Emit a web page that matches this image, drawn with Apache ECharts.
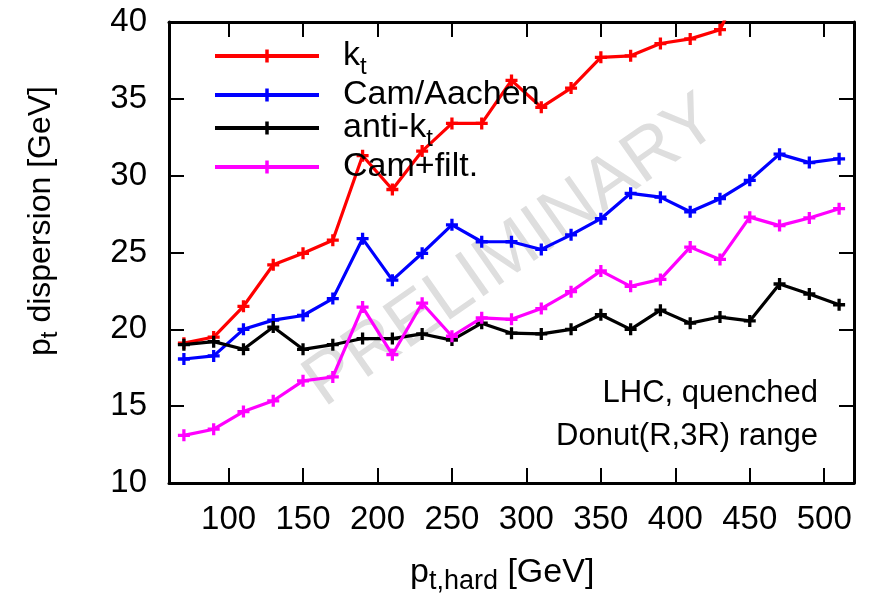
<!DOCTYPE html>
<html>
<head>
<meta charset="utf-8">
<script src="https://cdn.jsdelivr.net/npm/echarts@6/dist/echarts.min.js"></script>
<style>
html,body{margin:0;padding:0;background:#fff;}
#chart{width:871px;height:596px;}
</style>
</head>
<body>
<div id="chart"></div>
<script>
// ---- data ----
const ptHard = [70, 90, 110, 130, 150, 170, 190, 210, 230, 250, 270, 290, 310, 330, 350, 370, 390, 410, 430, 450, 470, 490, 510];
const ktValues = [19.1, 19.5, 21.5, 24.2, 24.95, 25.8, 31.3, 29.1, 31.6, 33.4, 33.4, 36.2, 34.45, 35.7, 37.7, 37.8, 38.6, 38.9, 39.5, 43.5];
const camValues = [18.07, 18.27, 20.0, 20.6, 20.9, 22.0, 25.9, 23.2, 24.95, 26.8, 25.7, 25.7, 25.2, 26.15, 27.2, 28.85, 28.6, 27.65, 28.5, 29.7, 31.4, 30.85, 31.1];
const antiKtValues = [19.0, 19.2, 18.7, 20.15, 18.7, 19.0, 19.4, 19.4, 19.7, 19.3, 20.4, 19.75, 19.7, 20.0, 20.95, 20.0, 21.25, 20.4, 20.8, 20.55, 22.95, 22.3, 21.6];
const camFiltValues = [13.1, 13.5, 14.65, 15.35, 16.65, 16.9, 21.45, 18.35, 21.7, 19.55, 20.75, 20.65, 21.35, 22.45, 23.8, 22.8, 23.25, 25.35, 24.55, 27.3, 26.75, 27.25, 27.85];
const xTicks = [100, 150, 200, 250, 300, 350, 400, 450, 500];
const seriesNames = ['k_t', 'Cam/Aachen', 'anti-k_t', 'Cam+filt.'];
const seriesColors = ['#ff0000', '#0000ff', '#000000', '#ff00ff'];

const FONT = "'Liberation Sans', Arial, Helvetica, sans-serif";
const plus = 'path://M4,0H7V4H11V7H7V11H4V7H0V4H4Z';

function pairs(vals) { return vals.map((v, i) => [ptHard[i], v]); }
const allValues = [ktValues, camValues, antiKtValues, camFiltValues];

const chart = echarts.init(document.getElementById('chart'), null, {renderer: 'canvas'});

const series = seriesNames.map((name, i) => ({
  name: name,
  type: 'line',
  data: pairs(allValues[i]),
  symbol: plus,
  symbolSize: 12,
  showAllSymbol: true,
  clip: true,
  color: seriesColors[i],
  lineStyle: {color: seriesColors[i], width: 3.2},
  itemStyle: {color: seriesColors[i]},
  z: 3 + i,
  animation: false
}));

const legendRich = {
  sp: {width: 19},
  m: {fontSize: 34, lineHeight: 46, fontFamily: FONT, color: '#000'},
  s: {fontSize: 24, lineHeight: 14, verticalAlign: 'bottom', fontFamily: FONT, color: '#000'}
};

const option = {
  animation: false,
  backgroundColor: '#fff',
  grid: {left: 169, right: 17, top: 22, bottom: 113, containLabel: false},
  xAxis: [{
    type: 'value', min: 60, max: 520, position: 'bottom',
    axisLine: {show: true, onZero: false, lineStyle: {color: '#000', width: 3}},
    axisTick: {show: true, inside: true, length: 15, customValues: xTicks, lineStyle: {color: '#000', width: 2}},
    axisLabel: {show: true, customValues: xTicks, margin: 20, color: '#000', fontSize: 33, fontFamily: FONT},
    splitLine: {show: false}
  }, {
    type: 'value', min: 60, max: 520, position: 'top',
    axisLine: {show: true, onZero: false, lineStyle: {color: '#000', width: 3}},
    axisTick: {show: true, inside: true, length: 15, customValues: xTicks, lineStyle: {color: '#000', width: 2}},
    axisLabel: {show: false},
    splitLine: {show: false}
  }],
  yAxis: [{
    type: 'value', min: 10, max: 40, interval: 5, position: 'left',
    axisLine: {show: true, onZero: false, lineStyle: {color: '#000', width: 3}},
    axisTick: {show: true, inside: true, length: 15, lineStyle: {color: '#000', width: 2}},
    axisLabel: {show: true, margin: 22, color: '#000', fontSize: 33, fontFamily: FONT},
    splitLine: {show: false}
  }, {
    type: 'value', min: 10, max: 40, interval: 5, position: 'right',
    axisLine: {show: true, onZero: false, lineStyle: {color: '#000', width: 3}},
    axisTick: {show: true, inside: true, length: 15, lineStyle: {color: '#000', width: 2}},
    axisLabel: {show: false},
    splitLine: {show: false}
  }],
  legend: {
    show: true,
    orient: 'vertical',
    left: 213,
    top: 39,
    itemWidth: 104,
    itemHeight: 16,
    itemGap: -1,
    padding: 0,
    selectedMode: false,
    data: seriesNames,
    lineStyle: {width: 4},
    formatter: function (name) {
      if (name === 'k_t') return '{sp|}{m|k}{s|t}';
      if (name === 'anti-k_t') return '{sp|}{m|anti-k}{s|t}';
      return '{sp|}{m|' + name + '}';
    },
    textStyle: {color: '#000', fontSize: 34, fontFamily: FONT, rich: legendRich}
  },
  graphic: [
    {
      type: 'text', z: 0, x: 512, y: 252, rotation: 35 * Math.PI / 180,
      style: {text: 'PRELIMINARY', font: "72px " + FONT, fill: '#dedede', textAlign: 'center', textVerticalAlign: 'middle'}
    },
    {
      type: 'text', z: 10, x: 41, y: 221, rotation: Math.PI / 2,
      style: {
        text: '{m|p}{s|t}{m| dispersion [GeV]}',
        textAlign: 'center', textVerticalAlign: 'middle',
        rich: {
          m: {fontSize: 32, lineHeight: 42, fontFamily: FONT, fill: '#000'},
          s: {fontSize: 24, lineHeight: 14, verticalAlign: 'bottom', fontFamily: FONT, fill: '#000'}
        }
      }
    },
    {
      type: 'text', z: 10, x: 410, y: 573,
      style: {
        text: '{m|p}{s|t,hard}{m| [GeV]}',
        textAlign: 'left', textVerticalAlign: 'middle',
        rich: {
          m: {fontSize: 34, lineHeight: 44, fontFamily: FONT, fill: '#000'},
          s: {fontSize: 27, lineHeight: 16, verticalAlign: 'bottom', fontFamily: FONT, fill: '#000'}
        }
      }
    },
    {
      type: 'text', z: 10, x: 818, y: 393,
      style: {text: 'LHC, quenched', font: "31px " + FONT, fill: '#000', textAlign: 'right', textVerticalAlign: 'middle'}
    },
    {
      type: 'text', z: 10, x: 818, y: 436,
      style: {text: 'Donut(R,3R) range', font: "31px " + FONT, fill: '#000', textAlign: 'right', textVerticalAlign: 'middle'}
    }
  ],
  series: series
};

chart.setOption(option);
</script>
</body>
</html>
